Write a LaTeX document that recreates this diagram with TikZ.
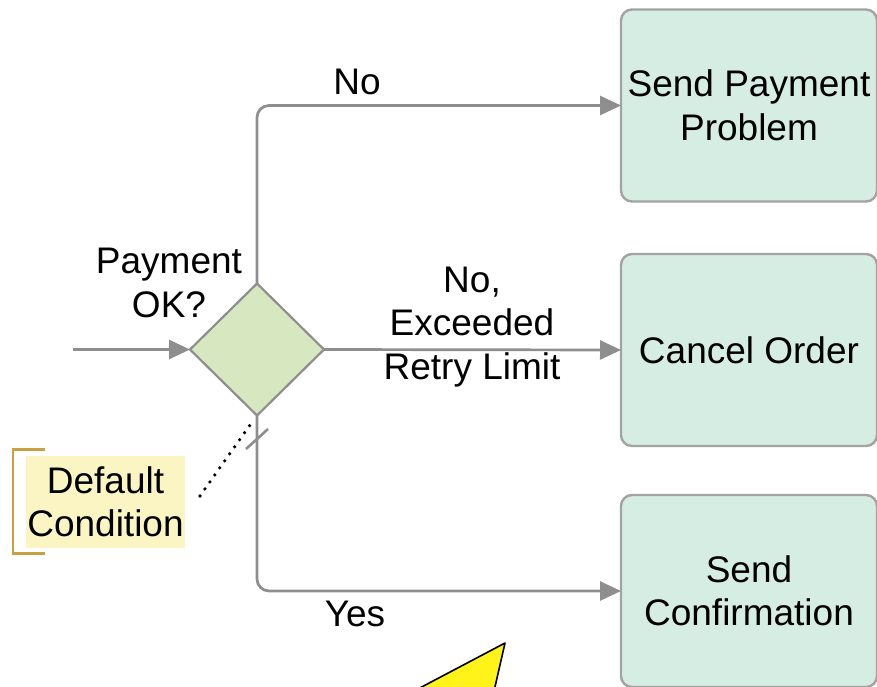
\documentclass[tikz,border=0pt]{standalone}
\usepackage{fontspec}
\setmainfont{Liberation Sans}
\usetikzlibrary{arrows.meta,shapes.geometric}
\definecolor{linegray}{HTML}{8E8E8E}
\definecolor{boxfill}{HTML}{D6EDE4}
\definecolor{boxborder}{HTML}{A3A3A3}
\definecolor{diafill}{HTML}{D7E7BF}
\definecolor{notefill}{HTML}{FBF5C3}
\definecolor{bracketgold}{HTML}{C9A042}
\tikzset{
  x=1pt, y=-1pt,
  txt/.style={font=\fontsize{37}{43.5}\selectfont, align=center, inner sep=0pt},
  taskbox/.style={draw=boxborder, fill=boxfill, line width=2.4pt, rounded corners=11pt,
    minimum width=256pt, minimum height=192pt, outer sep=0pt, txt},
  gateway/.style={diamond, draw=linegray, fill=diafill, line width=2.2pt,
    minimum width=134pt, minimum height=132pt, inner sep=0pt, outer sep=0pt},
  flow/.style={draw=linegray, line width=2.7pt, rounded corners=12pt,
    -{Triangle[length=21pt,width=19pt,fill=linegray]}},
}
\begin{document}
\begin{tikzpicture}
\useasboundingbox (0,0) rectangle (877,687);
\clip (0,0) rectangle (877,687);
\fill[white] (0,0) rectangle (877,687);

% tasks
\node[taskbox] (pay) at (749,105.5) {Send Payment\\Problem};
\node[taskbox] (cancel) at (749,350) {Cancel Order};
\node[taskbox] (confirm) at (749,591) {Send\\Confirmation};

% gateway
\node[gateway] (gw) at (257,349.5) {};
\node[txt] (gwlabel) at (169,283) {Payment\\OK?};

% incoming flow
\coordinate (start) at (73,349.5);
\draw[flow] (start) -- (gw.west);

% outgoing flows
\draw[flow] (gw.north) |- (pay.west);
\draw[flow] (gw.east) -- (cancel.west);
\draw[flow] (gw.south) |- (confirm.west);

% flow labels
\node[txt] (lno) at (357,82) {No};
\node[txt] (lretry) at (472,327) {No,\\Exceeded\\Retry Limit};
\node[txt] (lyes) at (355,614) {Yes};

% default marker
\coordinate (s1) at (246,449);
\coordinate (s2) at (268,429);
\draw[linegray, line width=2.6pt] (s1) -- (s2);

% annotation
\node[fill=notefill, minimum width=159pt, minimum height=92pt, inner sep=0pt,
  txt] (note) at (105.5,502) {Default\\Condition};
\draw[bracketgold, line width=2.8pt] (45,449.5) -- (13,449.5) -- (13,553.5) -- (45,553.5);
\coordinate (d1) at (200,496);
\coordinate (d2) at (250,425);
\draw[black, line width=3.6pt, line cap=round, dash pattern=on 0pt off 8.6pt] (d1) -- (d2);

% yellow pointer
\draw[fill=yellow!90!white, draw=black, line width=1.6pt, line join=round]
  (505,643) -- (397,700) -- (492,700) -- cycle;
\end{tikzpicture}
\end{document}
